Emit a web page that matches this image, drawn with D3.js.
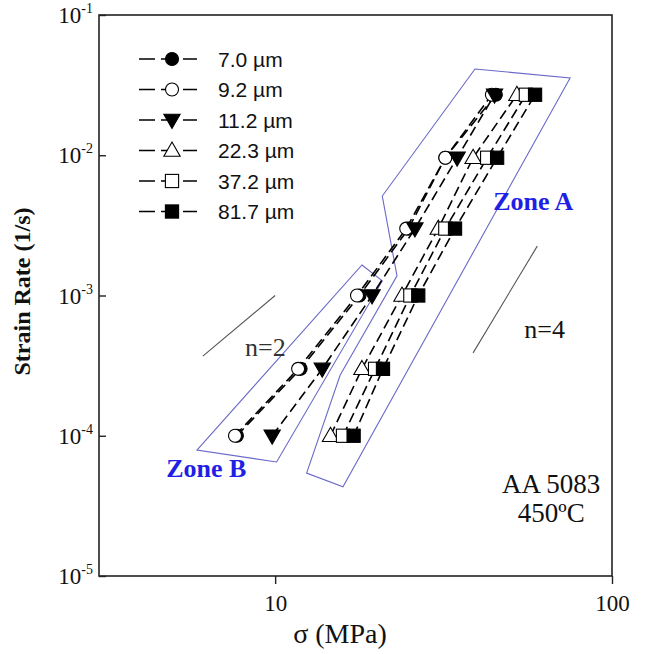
<!DOCTYPE html>
<html>
<head>
<meta charset="utf-8">
<script src="https://cdn.jsdelivr.net/npm/d3@7"></script>
<style>
  html, body { margin: 0; padding: 0; background: #fff; }
  svg { display: block; }
</style>
</head>
<body>
<svg id="chart" width="654" height="654"></svg>
<script>
// Strain rates tested (1/s), shared by every grain size
const strainRates = [1e-4, 3e-4, 1e-3, 3e-3, 9.6e-3, 2.7e-2];

// Flow stress (MPa) for each grain size, one value per strain rate
const grainLabels = ["7.0 µm", "9.2 µm", "11.2 µm", "22.3 µm", "37.2 µm", "81.7 µm"];
const stress7_0  = [7.7, 11.9, 17.8, 24.9, 32.0, 45.2];
const stress9_2  = [7.6, 11.7, 17.5, 24.5, 32.0, 44.0];
const stress11_2 = [9.8, 13.8, 19.4, 26.0, 34.7, 44.8];
const stress22_3 = [14.6, 18.1, 23.8, 30.5, 38.7, 52.2];
const stress37_2 = [15.9, 19.8, 25.2, 32.0, 42.6, 55.5];
const stress81_7 = [17.1, 20.9, 26.6, 34.2, 45.6, 59.1];
const markerShapes = ["circleFilled", "circleOpen", "triDownFilled", "triUpOpen", "squareOpen", "squareFilled"];

// Axis ticks
const xTickValues = [10, 100];
const yTickExponents = [-1, -2, -3, -4, -5];

// Zone outlines, as (stress, strain rate) vertices
const zoneA_stress = [39.2, 75.1, 15.9, 12.4, 15.6, 23.0, 20.8];
const zoneA_rate   = [4.12e-2, 3.56e-2, 4.32e-5, 5.42e-5, 2.71e-4, 1.38e-3, 5.12e-3];
const zoneB_stress = [18.1, 20.8, 10.1, 5.86];
const zoneB_rate   = [1.65e-3, 1.27e-3, 6.5e-5, 7.9e-5];

// Slope guides: stress exponent n = 2 and n = 4
const guideN2_stress = [6.1, 10.0];
const guideN2_rate   = [3.7e-4, 1.0e-3];
const guideN4_stress = [38.7, 60.0];
const guideN4_rate   = [3.9e-4, 2.25e-3];

const svg = d3.select("#chart");
const margin = { left: 99, right: 42, top: 15, bottom: 78 };
const W = 654, H = 654;
const x = d3.scaleLog().domain([3, 100]).range([margin.left, W - margin.right]);
const y = d3.scaleLog().domain([1e-5, 1e-1]).range([H - margin.bottom, margin.top]);

const serif = "'Liberation Serif', 'Times New Roman', serif";
const sans = "'Liberation Sans', Arial, sans-serif";

const series = [stress7_0, stress9_2, stress11_2, stress22_3, stress37_2, stress81_7].map((vals, i) => ({
  label: grainLabels[i],
  shape: markerShapes[i],
  points: vals.map((s, j) => ({ s, r: strainRates[j] }))
}));

// Zone outlines
const zoneColor = "#6a6ac8";
function drawZone(stress, rate) {
  const pts = stress.map((s, i) => [x(s), y(rate[i])]);
  svg.append("path")
    .attr("d", d3.line()(pts) + "Z")
    .attr("fill", "none")
    .attr("stroke", zoneColor)
    .attr("stroke-width", 1.1);
}
drawZone(zoneA_stress, zoneA_rate);
drawZone(zoneB_stress, zoneB_rate);

// Slope guides
function drawGuide(stress, rate) {
  svg.append("line")
    .attr("x1", x(stress[0])).attr("y1", y(rate[0]))
    .attr("x2", x(stress[1])).attr("y2", y(rate[1]))
    .attr("stroke", "#555").attr("stroke-width", 1.1);
}
drawGuide(guideN2_stress, guideN2_rate);
drawGuide(guideN4_stress, guideN4_rate);

// Marker drawing
function marker(g, shape, cx, cy) {
  const filled = shape.endsWith("Filled");
  const fill = filled ? "#000" : "#fff";
  let el;
  if (shape.startsWith("circle")) {
    el = g.append("circle").attr("cx", cx).attr("cy", cy).attr("r", 6.5);
  } else if (shape.startsWith("square")) {
    el = g.append("rect").attr("x", cx - 6.6).attr("y", cy - 6.6).attr("width", 13.2).attr("height", 13.2);
  } else {
    const sym = d3.symbol().type(d3.symbolTriangle).size(115);
    const rot = shape.startsWith("triDown") ? 180 : 0;
    el = g.append("path").attr("d", sym())
      .attr("transform", `translate(${cx},${cy + (rot ? -1 : 1)}) rotate(${rot})`);
  }
  el.attr("fill", fill).attr("stroke", "#000").attr("stroke-width", 1.1);
}

// Dashed lines through each grain size
const line = d3.line().x(d => x(d.s)).y(d => y(d.r));
series.forEach(sr => {
  svg.append("path")
    .attr("d", line(sr.points))
    .attr("fill", "none")
    .attr("stroke", "#000")
    .attr("stroke-width", 1.6)
    .attr("stroke-dasharray", "10,5");
});
series.forEach(sr => {
  const g = svg.append("g");
  sr.points.forEach(p => marker(g, sr.shape, x(p.s), y(p.r)));
});

// Frame
svg.append("rect")
  .attr("x", margin.left).attr("y", margin.top)
  .attr("width", W - margin.left - margin.right)
  .attr("height", H - margin.top - margin.bottom)
  .attr("fill", "none").attr("stroke", "#222").attr("stroke-width", 1.6);

// X axis ticks and labels
const xAxis = d3.axisBottom(x).tickValues(xTickValues).tickSize(8).tickFormat(d3.format("d"));
const gx = svg.append("g").attr("transform", `translate(0,${H - margin.bottom})`).call(xAxis);
gx.select(".domain").remove();
gx.selectAll(".tick line").attr("stroke", "#222").attr("stroke-width", 1.4);
gx.selectAll(".tick text")
  .attr("font-family", serif).attr("font-size", 23).attr("fill", "#111").attr("dy", "1.05em");

// Y axis ticks (inward) and power-of-ten labels
const yAxis = d3.axisLeft(y).tickValues(yTickExponents.map(e => Math.pow(10, e))).tickSize(-7).tickFormat("");
const gy = svg.append("g").attr("transform", `translate(${margin.left},0)`).call(yAxis);
gy.select(".domain").remove();
gy.selectAll(".tick line").attr("stroke", "#222").attr("stroke-width", 1.4);
yTickExponents.forEach(e => {
  const t = svg.append("text")
    .attr("x", margin.left - 6)
    .attr("y", y(Math.pow(10, e)) + 8)
    .attr("text-anchor", "end")
    .attr("font-family", serif).attr("font-size", 23).attr("fill", "#111");
  t.append("tspan").text("10");
  t.append("tspan").attr("font-size", 14).attr("dy", -10).text(String(e));
});

// Axis titles
svg.append("text")
  .attr("x", 340).attr("y", 643)
  .attr("text-anchor", "middle")
  .attr("font-family", serif).attr("font-size", 28).attr("fill", "#111")
  .text("σ (MPa)");
svg.append("text")
  .attr("transform", `translate(30,${(margin.top + H - margin.bottom) / 2 - 4}) rotate(-90)`)
  .attr("text-anchor", "middle")
  .attr("font-family", serif).attr("font-size", 24).attr("font-weight", "bold").attr("fill", "#111")
  .text("Strain Rate (1/s)");

// Legend
const legendY0 = 59, legendStep = 30.5;
series.forEach((sr, i) => {
  const ly = legendY0 + i * legendStep;
  const g = svg.append("g");
  g.append("line")
    .attr("x1", 139).attr("x2", 197).attr("y1", ly).attr("y2", ly)
    .attr("stroke", "#000").attr("stroke-width", 1.6).attr("stroke-dasharray", "16,6");
  marker(g, sr.shape, 172, ly);
  g.append("text")
    .attr("x", 218).attr("y", ly + 7.5)
    .attr("font-family", sans).attr("font-size", 21).attr("fill", "#111")
    .text(sr.label);
});

// Annotations
const zoneText = "#1f1fe6";
svg.append("text").attr("x", x(44.4)).attr("y", y(4.07e-3))
  .attr("font-family", serif).attr("font-size", 26).attr("font-weight", "bold").attr("fill", zoneText)
  .text("Zone A");
svg.append("text").attr("x", x(4.75)).attr("y", y(5.08e-5))
  .attr("font-family", serif).attr("font-size", 26).attr("font-weight", "bold").attr("fill", zoneText)
  .text("Zone B");
svg.append("text").attr("x", x(8.14)).attr("y", y(3.7e-4))
  .attr("font-family", serif).attr("font-size", 26).attr("fill", "#333")
  .text("n=2");
svg.append("text").attr("x", x(54.9)).attr("y", y(5.0e-4))
  .attr("font-family", serif).attr("font-size", 26).attr("fill", "#111")
  .text("n=4");
svg.append("text").attr("x", x(66)).attr("y", y(3.9e-5))
  .attr("text-anchor", "middle")
  .attr("font-family", serif).attr("font-size", 27).attr("fill", "#111")
  .text("AA 5083");
svg.append("text").attr("x", x(66)).attr("y", y(2.43e-5))
  .attr("text-anchor", "middle")
  .attr("font-family", serif).attr("font-size", 27).attr("fill", "#111")
  .text("450ºC");
</script>
</body>
</html>
